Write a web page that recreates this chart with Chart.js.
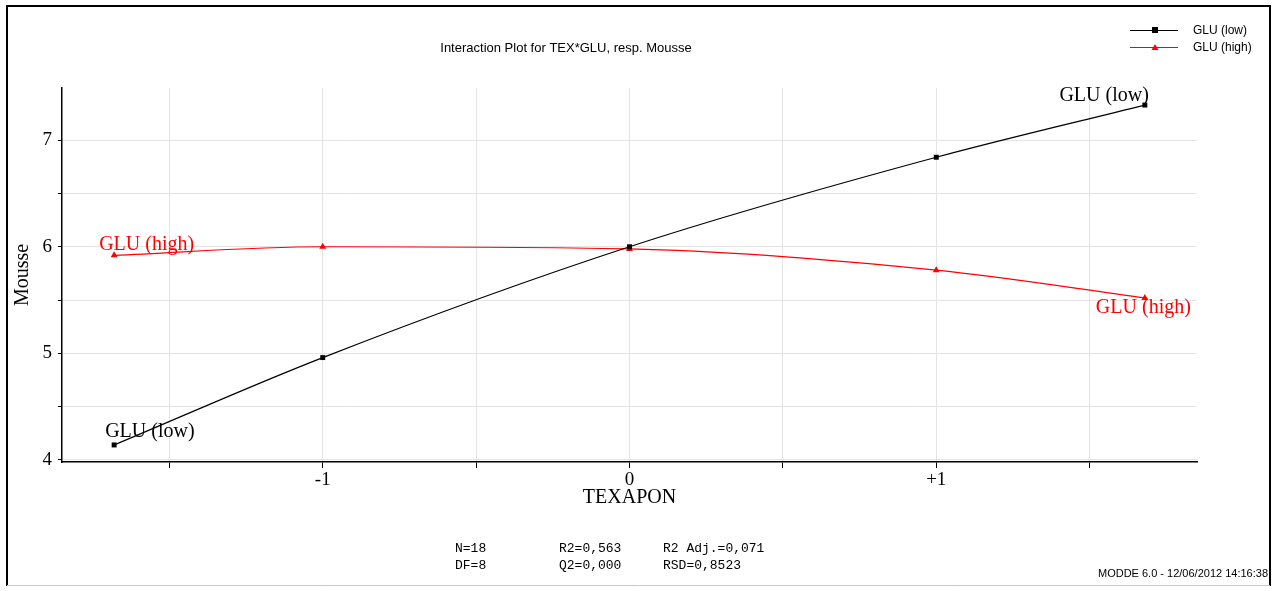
<!DOCTYPE html>
<html>
<head>
<meta charset="utf-8">
<title>Interaction Plot for TEX*GLU, resp. Mousse</title>
<script src="https://cdn.jsdelivr.net/npm/chart.js@4/dist/chart.umd.min.js"></script>
<style>
  html, body { margin: 0; padding: 0; background: #fff; }
  #wrap { width: 1277px; height: 591px; }
</style>
</head>
<body>
<div id="wrap"><canvas id="c" width="1277" height="591"></canvas></div>
<script>
// TEXAPON levels (coded units, star points at ±1.68)
const texapon = [-1.68, -1, 0, 1, 1.68];
// Predicted Mousse at low and high GLU
const gluLow  = [4.14, 4.96, 6.00, 6.84, 7.33];
const gluHigh = [5.92, 6.00, 5.98, 5.78, 5.52];

const seriesNames = ['GLU (low)', 'GLU (high)'];
const xTicks = [-1.5, -1, -0.5, 0, 0.5, 1, 1.5];
const xTickLabels = { '-1': '-1', '0': '0', '1': '+1' };
const yTicks = [4, 4.5, 5, 5.5, 6, 6.5, 7];

const chartTitle = 'Interaction Plot for TEX*GLU, resp. Mousse';
const xTitle = 'TEXAPON';
const yTitle = 'Mousse';
const statsRows = [
  ['N=18', 'R2=0,563', 'R2 Adj.=0,071'],
  ['DF=8', 'Q2=0,000', 'RSD=0,8523']
];
const footer = 'MODDE 6.0 - 12/06/2012 14:16:38';

const serif = '"Liberation Serif", "Times New Roman", serif';
const sans = '"Liberation Sans", Arial, sans-serif';
const mono = '"Liberation Mono", "Courier New", monospace';

const colors = ['#000000', '#ff0000'];
const styles = ['rect', 'triangle'];

function toPoints(ys) { return texapon.map((x, i) => ({ x: x, y: ys[i] })); }

// Text, legend, series end labels and frame drawn onto the canvas
const decor = {
  id: 'decor',
  beforeDraw(chart) {
    const ctx = chart.ctx;
    ctx.save();
    ctx.fillStyle = '#fff';
    ctx.fillRect(0, 0, chart.width, chart.height);
    ctx.restore();
  },
  afterDraw(chart) {
    const ctx = chart.ctx;
    const xs = chart.scales.x, ys = chart.scales.y;
    ctx.save();

    // frame
    ctx.strokeStyle = '#000';
    ctx.lineWidth = 2;
    ctx.beginPath();
    ctx.moveTo(7, 586); ctx.lineTo(7, 6); ctx.lineTo(1270, 6); ctx.lineTo(1270, 586);
    ctx.stroke();
    ctx.strokeStyle = '#c8c8c8';
    ctx.lineWidth = 1;
    ctx.beginPath(); ctx.moveTo(7, 585.5); ctx.lineTo(1270, 585.5); ctx.stroke();

    // title
    ctx.fillStyle = '#000';
    ctx.font = '13px ' + sans;
    ctx.textAlign = 'center';
    ctx.textBaseline = 'middle';
    ctx.fillText(chartTitle, 566, 48);

    // axis titles
    ctx.font = '20px ' + serif;
    ctx.fillText(xTitle, (xs.left + xs.right) / 2, 498);
    ctx.save();
    ctx.translate(23, 275);
    ctx.rotate(-Math.PI / 2);
    ctx.fillText(yTitle, 0, 0);
    ctx.restore();

    // legend
    ctx.font = '12px ' + sans;
    ctx.textAlign = 'left';
    seriesNames.forEach((name, i) => {
      const y = 30 + i * 17;
      ctx.strokeStyle = colors[i];
      ctx.lineWidth = 1;
      ctx.beginPath(); ctx.moveTo(1130, y + 0.5); ctx.lineTo(1178, y + 0.5); ctx.stroke();
      ctx.fillStyle = colors[i];
      if (styles[i] === 'rect') {
        ctx.fillRect(1152, y - 3, 6, 6);
      } else {
        ctx.beginPath(); ctx.moveTo(1155, y - 3); ctx.lineTo(1158.5, y + 3); ctx.lineTo(1151.5, y + 3); ctx.closePath(); ctx.fill();
      }
      ctx.fillStyle = '#000';
      ctx.fillText(name, 1193, y + 1);
    });

    // series labels at both ends
    ctx.font = '20px ' + serif;
    const last = texapon.length - 1;
    const lowL = { x: xs.getPixelForValue(texapon[0]), y: ys.getPixelForValue(gluLow[0]) };
    const lowR = { x: xs.getPixelForValue(texapon[last]), y: ys.getPixelForValue(gluLow[last]) };
    const hiL = { x: xs.getPixelForValue(texapon[0]), y: ys.getPixelForValue(gluHigh[0]) };
    const hiR = { x: xs.getPixelForValue(texapon[last]), y: ys.getPixelForValue(gluHigh[last]) };
    ctx.fillStyle = colors[0];
    ctx.textAlign = 'left';
    ctx.fillText(seriesNames[0], lowL.x - 9, lowL.y - 13);
    ctx.textAlign = 'right';
    ctx.fillText(seriesNames[0], lowR.x + 4, lowR.y - 9);
    ctx.fillStyle = colors[1];
    ctx.textAlign = 'left';
    ctx.fillText(seriesNames[1], hiL.x - 15, hiL.y - 11);
    ctx.textAlign = 'right';
    ctx.fillText(seriesNames[1], hiR.x + 46, hiR.y + 10);

    // statistics block
    ctx.fillStyle = '#000';
    ctx.font = '13px ' + mono;
    ctx.textAlign = 'left';
    const cols = [455, 559, 663];
    statsRows.forEach((row, r) => {
      row.forEach((t, c) => ctx.fillText(t, cols[c], 549 + r * 17));
    });

    // footer
    ctx.font = '11px ' + sans;
    ctx.textAlign = 'right';
    ctx.fillText(footer, 1268, 574);

    ctx.restore();
  }
};

new Chart(document.getElementById('c'), {
  type: 'scatter',
  data: {
    datasets: [gluLow, gluHigh].map((vals, i) => ({
      label: seriesNames[i],
      data: toPoints(vals),
      showLine: true,
      borderColor: colors[i],
      backgroundColor: colors[i],
      borderWidth: 1.2,
      cubicInterpolationMode: 'monotone',
      pointStyle: styles[i],
      pointRadius: i === 0 ? 3.5 : 4,
      pointBorderWidth: 0
    }))
  },
  options: {
    responsive: false,
    animation: false,
    events: [],
    layout: { padding: { left: 0, top: 88, right: 80, bottom: 79 } },
    plugins: { legend: { display: false }, title: { display: false }, tooltip: { enabled: false } },
    scales: {
      x: {
        type: 'linear',
        min: -1.85,
        max: 1.85,
        afterBuildTicks(s) { s.ticks = xTicks.map(v => ({ value: v })); },
        afterFit(s) { s.height = 50; },
        ticks: {
          autoSkip: false,
          maxRotation: 0,
          color: '#000',
          font: { family: serif, size: 19 },
          padding: 1,
          callback: v => (xTickLabels[String(v)] !== undefined ? xTickLabels[String(v)] : '')
        },
        grid: { color: '#e4e4e4', tickColor: '#000', tickLength: 6, lineWidth: 1 },
        border: { color: '#000', width: 1.5 }
      },
      y: {
        type: 'linear',
        min: 3.98,
        max: 7.49,
        afterBuildTicks(s) { s.ticks = yTicks.map(v => ({ value: v })); },
        afterFit(s) { s.width = 62; },
        ticks: {
          autoSkip: false,
          color: '#000',
          font: { family: serif, size: 19 },
          padding: 6,
          callback: v => (Number.isInteger(v) ? String(v) : '')
        },
        grid: { color: '#e4e4e4', tickColor: '#000', tickLength: 4, lineWidth: 1 },
        border: { color: '#000', width: 1.5 }
      }
    }
  },
  plugins: [decor]
});
</script>
</body>
</html>
